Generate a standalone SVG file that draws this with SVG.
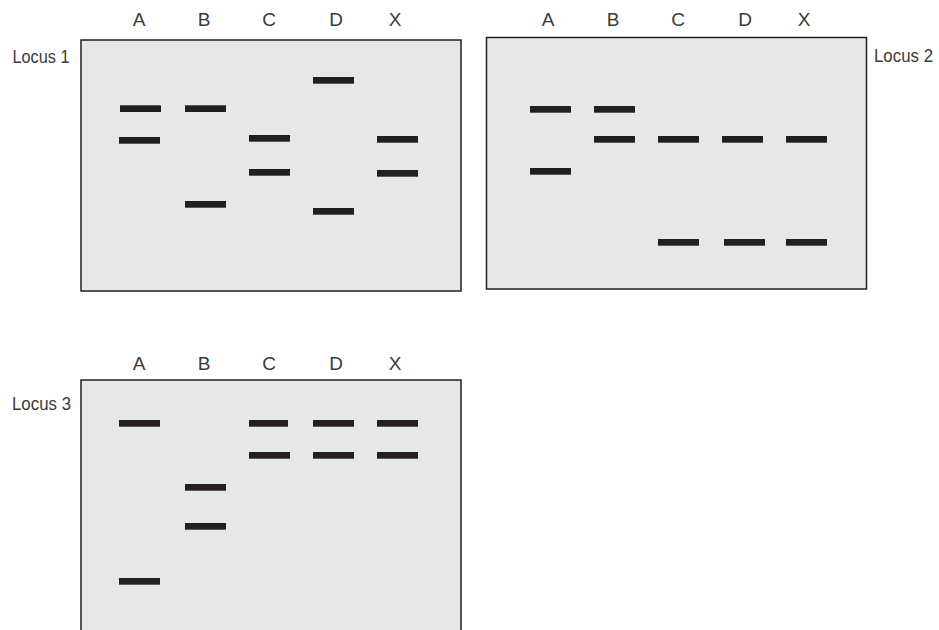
<svg xmlns="http://www.w3.org/2000/svg" width="939" height="630" viewBox="0 0 939 630">
<style>
.gel{fill:#e6e7e8;stroke:#231f20;stroke-width:1.5}
.band{fill:#231f20}
.lab{font-family:"Liberation Sans",Arial,sans-serif;font-size:19px;fill:#3a3a3a;text-anchor:middle}
.loc{font-family:"Liberation Sans",Arial,sans-serif;font-size:19px;fill:#3a3a3a}
</style>
<defs>
<rect id="b" class="band" width="41" height="6.7"/>
</defs>
<g id="locus1">
<rect class="gel" x="81" y="40" width="380" height="251"/>
<text class="loc" x="12.5" y="63" textLength="57" lengthAdjust="spacingAndGlyphs">Locus 1</text>
<text class="lab" x="139" y="26">A</text>
<text class="lab" x="204" y="26">B</text>
<text class="lab" x="269" y="26">C</text>
<text class="lab" x="336" y="26">D</text>
<text class="lab" x="395" y="26">X</text>
<use href="#b" x="120" y="105.3"/>
<use href="#b" x="119" y="137"/>
<use href="#b" x="185" y="105.3"/>
<use href="#b" x="185" y="201"/>
<use href="#b" x="249" y="135"/>
<use href="#b" x="249" y="169"/>
<use href="#b" x="313" y="77"/>
<use href="#b" x="313" y="208"/>
<use href="#b" x="377" y="136"/>
<use href="#b" x="377" y="170"/>
</g>
<g id="locus2">
<rect class="gel" x="486.5" y="37.5" width="380" height="251.5"/>
<text class="loc" x="874" y="62" textLength="59" lengthAdjust="spacingAndGlyphs">Locus 2</text>
<text class="lab" x="548" y="26">A</text>
<text class="lab" x="613" y="26">B</text>
<text class="lab" x="678" y="26">C</text>
<text class="lab" x="745" y="26">D</text>
<text class="lab" x="804" y="26">X</text>
<use href="#b" x="530" y="106"/>
<use href="#b" x="530" y="168"/>
<use href="#b" x="594" y="106"/>
<use href="#b" x="594" y="136"/>
<use href="#b" x="658" y="136"/>
<use href="#b" x="658" y="239"/>
<use href="#b" x="722" y="136"/>
<use href="#b" x="724" y="239"/>
<use href="#b" x="786" y="136"/>
<use href="#b" x="786" y="239"/>
</g>
<g id="locus3">
<rect class="gel" x="81" y="380" width="380" height="270"/>
<text class="loc" x="12" y="410" textLength="59" lengthAdjust="spacingAndGlyphs">Locus 3</text>
<text class="lab" x="139" y="370">A</text>
<text class="lab" x="204" y="370">B</text>
<text class="lab" x="269" y="370">C</text>
<text class="lab" x="336" y="370">D</text>
<text class="lab" x="395" y="370">X</text>
<use href="#b" x="119" y="420"/>
<use href="#b" x="119" y="578"/>
<use href="#b" x="185" y="484"/>
<use href="#b" x="185" y="523"/>
<rect class="band" x="249" y="420" width="39" height="6.7"/>
<use href="#b" x="249" y="452"/>
<use href="#b" x="313" y="420"/>
<use href="#b" x="313" y="452"/>
<use href="#b" x="377" y="420"/>
<use href="#b" x="377" y="452"/>
</g>
</svg>
